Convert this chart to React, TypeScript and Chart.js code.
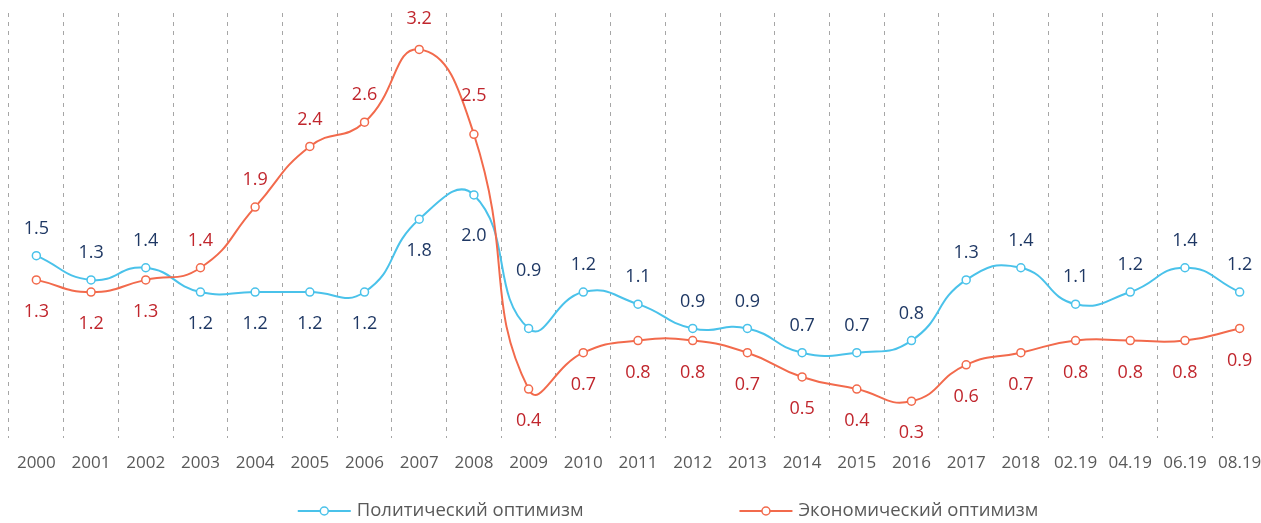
import React, { useEffect, useRef } from "react";
import { Chart, registerables } from "chart.js";

Chart.register(...registerables);

const categories = [
  "2000", "2001", "2002", "2003", "2004", "2005", "2006", "2007", "2008", "2009",
  "2010", "2011", "2012", "2013", "2014", "2015", "2016", "2017", "2018",
  "02.19", "04.19", "06.19", "08.19",
];

const politicalOptimism = [
  1.5, 1.3, 1.4, 1.2, 1.2, 1.2, 1.2, 1.8, 2.0, 0.9,
  1.2, 1.1, 0.9, 0.9, 0.7, 0.7, 0.8, 1.3, 1.4,
  1.1, 1.2, 1.4, 1.2,
];

const economicOptimism = [
  1.3, 1.2, 1.3, 1.4, 1.9, 2.4, 2.6, 3.2, 2.5, 0.4,
  0.7, 0.8, 0.8, 0.7, 0.5, 0.4, 0.3, 0.6, 0.7,
  0.8, 0.8, 0.8, 0.9,
];

const seriesNames = ["Политический оптимизм", "Экономический оптимизм"];

const FONT = '"Open Sans", "DejaVu Sans", sans-serif';
const FONT_SIZE = 17;
const LABEL_FONT_SIZE = 18;
const LEGEND_FONT_SIZE = 18.5;
const BLUE = "#4ac2ea";
const RED = "#f26a4c";
const BLUE_LABEL = "#1f3864";
const RED_LABEL = "#c0262d";
const TEXT = "#595959";

// extra vertical nudges for a few data labels (series index -> point index -> px)
const labelNudge: Record<number, Record<number, number>> = {
  0: { 8: 9, 9: -31 },
  1: { 7: -4, 8: -11 },
};

const dataLabelPlugin = {
  id: "pointValueLabels",
  afterDatasetsDraw(chart: any) {
    const ctx = chart.ctx;
    const sets = chart.data.datasets;
    ctx.save();
    ctx.font = `${LABEL_FONT_SIZE}px ${FONT}`;
    ctx.textAlign = "center";
    ctx.textBaseline = "middle";
    sets.forEach((ds: any, si: number) => {
      const meta = chart.getDatasetMeta(si);
      const other = sets[si === 0 ? 1 : 0].data as number[];
      meta.data.forEach((pt: any, i: number) => {
        const v = (ds.data as number[])[i];
        const above = v >= other[i];
        const dy = (above ? -27 : 32) + ((labelNudge[si] || {})[i] || 0);
        ctx.fillStyle = ds.labelColor;
        ctx.fillText(v.toFixed(1), pt.x, pt.y + dy);
      });
    });
    ctx.restore();
  },
};

const legendPlugin = {
  id: "lineLegend",
  afterDraw(chart: any) {
    const ctx = chart.ctx;
    ctx.save();
    ctx.font = `${LEGEND_FONT_SIZE}px ${FONT}`;
    const markerW = 53;
    const textGap = 6;
    const itemGap = 156;
    const items = chart.data.datasets.map((ds: any) => ({
      label: ds.label as string,
      color: ds.borderColor as string,
      w: markerW + textGap + ctx.measureText(ds.label).width,
    }));
    const total =
      items.reduce((s: number, it: any) => s + it.w, 0) + itemGap * (items.length - 1);
    const centerX = (chart.chartArea.left + chart.chartArea.right) / 2 + 30;
    const y = chart.height - 12;
    let x = centerX - total / 2;
    items.forEach((it: any) => {
      ctx.strokeStyle = it.color;
      ctx.lineWidth = 2;
      ctx.beginPath();
      ctx.moveTo(x, y);
      ctx.lineTo(x + markerW, y);
      ctx.stroke();
      ctx.beginPath();
      ctx.arc(x + markerW / 2, y, 4, 0, Math.PI * 2);
      ctx.fillStyle = "#ffffff";
      ctx.fill();
      ctx.lineWidth = 1.5;
      ctx.stroke();
      ctx.fillStyle = TEXT;
      ctx.textAlign = "left";
      ctx.textBaseline = "middle";
      ctx.fillText(it.label, x + markerW + textGap, y);
      x += it.w + itemGap;
    });
    ctx.restore();
  },
};

export default function App() {
  const canvasRef = useRef<HTMLCanvasElement | null>(null);

  useEffect(() => {
    if (!canvasRef.current) return;
    const chart = new Chart(canvasRef.current, {
      type: "line",
      data: {
        labels: categories,
        datasets: [
          {
            label: seriesNames[0],
            data: politicalOptimism,
            borderColor: BLUE,
            backgroundColor: BLUE,
            pointBackgroundColor: "#ffffff",
            pointBorderColor: BLUE,
            labelColor: BLUE_LABEL,
            order: 2,
          } as any,
          {
            label: seriesNames[1],
            data: economicOptimism,
            borderColor: RED,
            backgroundColor: RED,
            pointBackgroundColor: "#ffffff",
            pointBorderColor: RED,
            labelColor: RED_LABEL,
            order: 1,
          } as any,
        ],
      },
      options: {
        animation: false,
        responsive: true,
        maintainAspectRatio: false,
        layout: { padding: { left: 9, right: 23, top: 13, bottom: 35 } },
        elements: {
          line: { borderWidth: 2, tension: 0.5, fill: false },
          point: { radius: 4, borderWidth: 1.5, hoverRadius: 4 },
        },
        plugins: {
          legend: { display: false },
          tooltip: { enabled: false },
        },
        scales: {
          x: {
            offset: true,
            grid: { offset: true, color: "#a6a6a6", lineWidth: 1, drawTicks: false },
            border: { display: false, dash: [4, 5] },
            ticks: {
              color: TEXT,
              font: { family: FONT, size: FONT_SIZE },
              padding: 15,
              maxRotation: 0,
              autoSkip: false,
            },
          },
          y: { display: false, min: 0, max: 3.5 },
        },
      },
      plugins: [dataLabelPlugin, legendPlugin],
    });
    return () => chart.destroy();
  }, []);

  return (
    <div
      style={{
        position: "absolute",
        left: 0,
        top: 0,
        width: 1261,
        height: 523,
        overflow: "hidden",
        background: "#ffffff",
      }}
    >
      <div style={{ position: "relative", width: 1290, height: 523 }}>
        <canvas ref={canvasRef} />
      </div>
    </div>
  );
}
